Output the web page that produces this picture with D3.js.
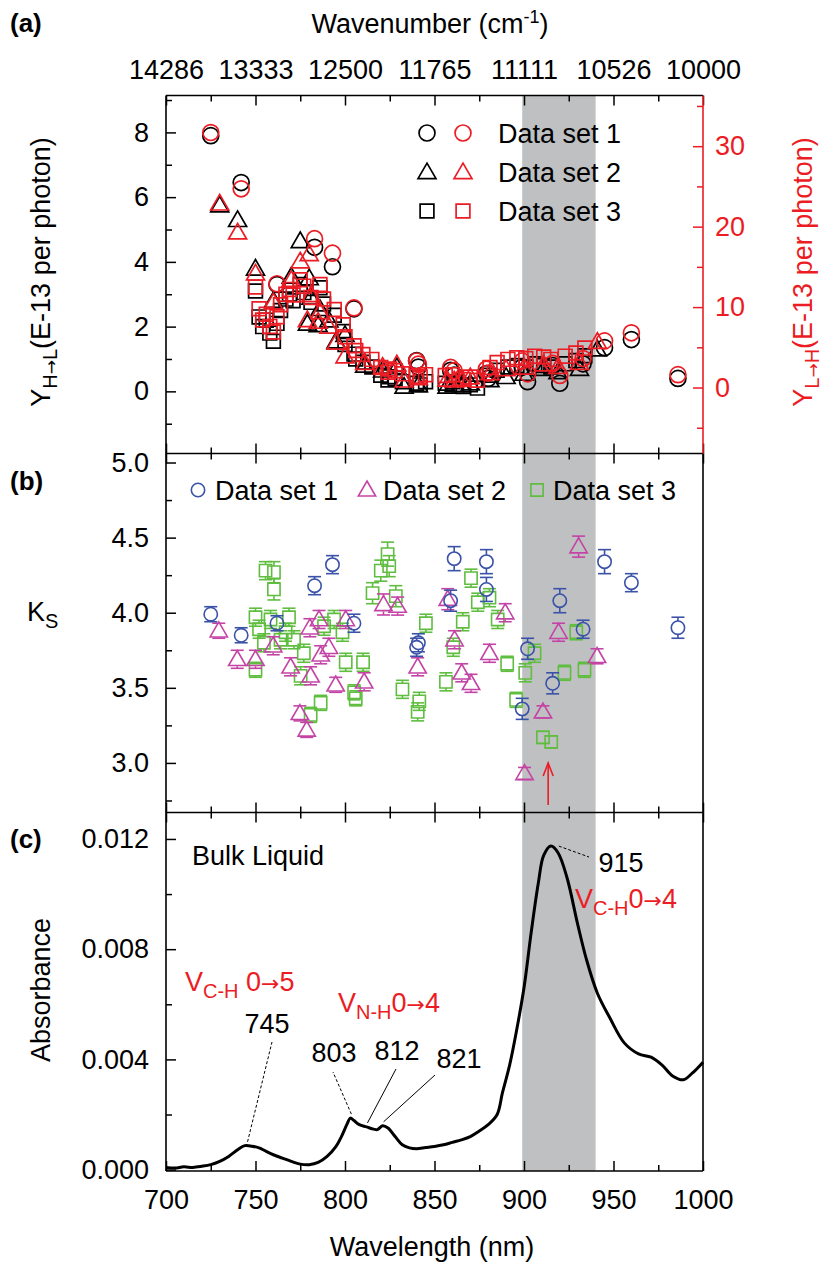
<!DOCTYPE html>
<html>
<head>
<meta charset="utf-8">
<script src="https://cdn.jsdelivr.net/npm/d3@7"></script>
<style>
body { margin: 0; background: #fff; }
text { font-family: "Liberation Sans", Arial, sans-serif; }
</style>
</head>
<body>
<svg id="chart" width="824" height="1268"></svg>
<script>
// ---- data ----
// panel (a): Y_H->L (left, black) and Y_L->H (right, red)
const a1Wl = [725, 742, 762, 783, 793, 805, 840, 841, 859, 861, 879, 880, 899, 902, 916, 920, 933, 945, 960, 986];
const a1HL = [7.9, 6.45, 3.3, 4.45, 3.85, 2.55, 0.95, 0.75, 0.65, 0.5, 0.55, 0.4, 0.75, 0.3, 0.8, 0.25, 0.85, 1.35, 1.6, 0.4];
const a1LH = [31.7, 24.7, 12.9, 18.5, 16.7, 9.9, 3.3, 2.9, 2.5, 2.1, 2.3, 1.8, 3.3, 1.7, 3.0, 1.5, 3.6, 5.8, 6.8, 1.6];

const a2Wl = [730, 740, 750, 760, 770, 775, 779, 780, 781, 785, 786, 791, 795, 800, 811, 821, 829, 833, 841, 857, 861, 865, 870, 881, 890, 900, 911, 919, 931, 941];
const a2HL = [5.75, 5.3, 3.8, 2.8, 3.55, 4.65, 2.1, 3.5, 2.9, 2.05, 2.55, 2.2, 1.55, 1.75, 0.8, 0.65, 0.75, 0.15, 0.2, 0.15, 0.2, 0.2, 0.25, 0.35, 0.45, 0.55, 0.7, 0.6, 0.7, 1.3];
const a2LH = [22.9, 19.3, 14.2, 10.6, 13.4, 15.7, 8.4, 16.6, 11.5, 8.2, 9.4, 7.6, 5.6, 3.9, 3.1, 2.6, 2.9, 0.9, 1.2, 1.0, 0.9, 1.1, 1.3, 1.8, 2.3, 2.5, 2.9, 2.6, 3.1, 5.7];

const a3Wl = [750, 752, 754, 756, 758, 760, 762, 764, 767, 769, 771, 775, 777, 781, 786, 788, 794, 799, 800, 805, 806, 810, 815, 820, 824, 825, 828, 832, 840, 842, 845, 856, 860, 866, 870, 874, 881, 885, 891, 896, 901, 906, 911, 915, 923, 929, 934];
const a3HL = [3.1, 2.3, 2.0, 2.2, 1.8, 1.55, 2.1, 2.5, 2.85, 3.0, 2.8, 3.3, 3.05, 2.75, 3.2, 2.7, 2.35, 1.85, 1.45, 1.15, 1.0, 0.9, 0.75, 0.5, 0.35, 0.45, 0.4, 0.3, 0.25, 0.2, 0.3, 0.25, 0.3, 0.15, 0.2, 0.1, 0.5, 0.65, 0.75, 0.8, 0.75, 0.85, 0.8, 0.75, 0.85, 0.95, 1.1];
const a3LH = [12.5, 9.8, 8.4, 9.1, 7.6, 6.9, 8.8, 10.3, 11.6, 12.2, 11.5, 13.4, 12.6, 11.2, 12.8, 11.0, 9.7, 7.8, 6.3, 5.2, 4.6, 4.1, 3.5, 2.5, 1.9, 2.3, 2.1, 1.7, 1.4, 1.3, 1.6, 1.5, 1.6, 1.0, 1.3, 0.9, 2.5, 3.1, 3.5, 3.7, 3.6, 3.9, 3.8, 3.5, 3.9, 4.3, 4.9];

// panel (b): K_S with error bars
const b1Wl = [725, 742, 762, 783, 793, 805, 840, 841, 859, 861, 879, 879, 899, 902, 916, 920, 933, 945, 960, 986];
const b1K = [3.99, 3.85, 3.93, 4.18, 4.32, 3.93, 3.77, 3.80, 4.08, 4.36, 4.155, 4.34, 3.36, 3.76, 3.53, 4.08, 3.89, 4.34, 4.20, 3.90];
const b1Err = [0.05, 0.05, 0.05, 0.06, 0.06, 0.06, 0.06, 0.06, 0.07, 0.08, 0.08, 0.08, 0.07, 0.07, 0.07, 0.08, 0.06, 0.08, 0.06, 0.07];

const b2Wl = [729.5, 739.8, 750, 759.9, 769.6, 774.8, 778.6, 780.4, 780.8, 785.5, 786.4, 791, 794.8, 800.4, 810.7, 821.5, 829.4, 840.6, 857.4, 861.2, 865.2, 870.4, 880.7, 889.5, 900.3, 910.6, 919.3, 930.5, 940.8];
const b2K = [3.88, 3.69, 3.69, 3.78, 3.64, 3.33, 3.22, 3.90, 3.58, 3.955, 3.72, 3.77, 3.52, 3.955, 3.54, 4.055, 4.044, 3.64, 4.09, 3.82, 3.60, 3.53, 3.73, 4.00, 2.93, 3.34, 3.87, 4.44, 3.71];
const b2Err = [0.05, 0.06, 0.06, 0.06, 0.06, 0.05, 0.05, 0.06, 0.06, 0.06, 0.06, 0.06, 0.05, 0.06, 0.06, 0.07, 0.06, 0.06, 0.07, 0.06, 0.06, 0.06, 0.06, 0.06, 0.04, 0.04, 0.06, 0.07, 0.05];

const b3Wl = [750, 750, 752, 754.7, 755.6, 758.4, 760.3, 760.3, 764, 766.8, 768.7, 771.5, 775.2, 777, 780.8, 786.4, 788.3, 793.9, 798.6, 800.4, 805.1, 806, 810.1, 815.4, 820, 823.8, 824.7, 828.4, 832.1, 840.6, 841.5, 845.2, 856.4, 860.5, 865.8, 870.4, 874.2, 880.7, 885.3, 890.6, 895.6, 900.7, 905.9, 910.6, 915.2, 922.6, 929.2, 933.8];
const b3K = [3.62, 3.97, 3.89, 3.80, 4.28, 3.955, 4.27, 4.155, 3.82, 3.87, 3.97, 3.82, 3.58, 3.73, 3.32, 3.40, 3.91, 3.955, 3.87, 3.67, 3.47, 3.43, 3.67, 4.13, 4.28, 4.39, 4.31, 4.11, 3.49, 3.34, 3.41, 3.93, 3.54, 3.77, 3.94, 4.23, 4.07, 4.10, 3.955, 3.66, 3.42, 3.60, 3.73, 3.17, 3.14, 3.60, 3.87, 3.62];
const b3Err = [0.05, 0.06, 0.06, 0.06, 0.06, 0.06, 0.07, 0.07, 0.06, 0.06, 0.06, 0.06, 0.06, 0.06, 0.05, 0.05, 0.06, 0.06, 0.06, 0.06, 0.05, 0.05, 0.06, 0.07, 0.07, 0.08, 0.07, 0.07, 0.06, 0.06, 0.06, 0.06, 0.06, 0.06, 0.06, 0.06, 0.06, 0.06, 0.06, 0.05, 0.05, 0.06, 0.06, 0.04, 0.04, 0.05, 0.05, 0.05];

// panel (c): bulk liquid absorbance
const cWl = [700, 705, 710, 715, 720, 725, 730, 735, 740, 744, 748, 752, 756, 760, 765, 770, 775, 780, 785, 790, 795, 798, 801, 803, 805, 808, 812, 816, 818, 821, 824, 828, 832, 836, 840, 845, 850, 855, 860, 865, 870, 875, 880, 885, 888, 892, 896, 900, 904, 908, 911, 915, 919, 924, 930, 935, 941, 948, 956, 964, 971, 977, 983, 989, 994, 1000];
const cAbs = [0.00008, 0.00006, 0.0001, 0.00008, 0.00012, 0.00018, 0.0003, 0.00048, 0.00072, 0.00087, 0.00085, 0.00079, 0.00066, 0.00054, 0.00042, 0.0003, 0.0002, 0.00018, 0.00026, 0.00048, 0.00084, 0.0012, 0.00163, 0.00187, 0.00178, 0.00163, 0.00155, 0.00147, 0.00145, 0.00159, 0.00151, 0.0012, 0.0009, 0.00079, 0.00076, 0.0008, 0.00084, 0.0009, 0.00099, 0.00108, 0.0012, 0.0014, 0.00163, 0.002, 0.0028, 0.0038, 0.0051, 0.0066, 0.0086, 0.0104, 0.0114, 0.01174, 0.0115, 0.0106, 0.0089, 0.0076, 0.0064, 0.0055, 0.0046, 0.0042, 0.00408, 0.0038, 0.0034, 0.00326, 0.0035, 0.0039];

const peakWl = [745, 803, 812, 821, 915];
const peakText = ["745", "803", "812", "821", "915"];

const xMajor = [700, 750, 800, 850, 900, 950, 1000];
const xMinor = [725, 775, 825, 875, 925, 975];
const band = [899, 940];
const arrowWl = 913.5;

// ---- layout ----
const FONT = "'Liberation Sans', Arial, sans-serif";
const ARROWFONT = "'DejaVu Sans', sans-serif";
const RED = "#ec1c24", BLUE = "#3a52a8", MAG = "#c444a6", GREEN = "#5fbd3f";
const left = 166, right = 703;
const topA = 95.5, ab = 453.5, bc = 812.5, bottomC = 1171;

const svg = d3.select("#chart");
svg.append("rect").attr("width", 824).attr("height", 1268).attr("fill", "#fff");

const x = d3.scaleLinear().domain([700, 1000]).range([left, right]);
const yA = d3.scaleLinear().domain([-1.92, 9.14]).range([ab, topA]);
const yAR = d3.scaleLinear().domain([-8.2, 36.3]).range([ab, topA]);
const yB = d3.scaleLinear().domain([2.67, 5.06]).range([bc, ab]);
const yC = d3.scaleLinear().domain([-0.00005, 0.01296]).range([bottomC, bc]);

// shaded band across all panels
svg.append("rect")
	.attr("x", x(band[0])).attr("width", x(band[1]) - x(band[0]))
	.attr("y", topA).attr("height", bottomC - topA)
	.attr("fill", "#bfc0c2");

function styleAxis(g, color) {
	g.select(".domain").remove();
	g.selectAll("line").attr("stroke", color).attr("stroke-width", 1.5);
	g.selectAll("text").attr("fill", color).style("font-size", "27px").style("font-family", FONT);
}

// x ticks on every horizontal edge
function xEdge(gen, y, fmt, pad) {
	let g = svg.append("g").attr("transform", "translate(0," + y + ")")
		.call(gen(x).tickValues(xMajor).tickSize(-10).tickPadding(pad || 3).tickFormat(fmt || (() => "")));
	styleAxis(g, "#000");
	g = svg.append("g").attr("transform", "translate(0," + y + ")")
		.call(gen(x).tickValues(xMinor).tickSize(-6).tickFormat(() => ""));
	styleAxis(g, "#000");
}
xEdge(d3.axisTop, topA, d => Math.round(1e7 / d), 17);
xEdge(d3.axisBottom, ab);
xEdge(d3.axisTop, ab);
xEdge(d3.axisBottom, bc);
xEdge(d3.axisTop, bc);
xEdge(d3.axisBottom, bottomC, d => d, 19);

function yEdge(gen, xPos, scale, major, minor, fmt, color, pad) {
	let g = svg.append("g").attr("transform", "translate(" + xPos + ",0)")
		.call(gen(scale).tickValues(major).tickSize(-10).tickPadding(pad).tickFormat(fmt));
	styleAxis(g, color);
	g = svg.append("g").attr("transform", "translate(" + xPos + ",0)")
		.call(gen(scale).tickValues(minor).tickSize(-6).tickFormat(() => ""));
	styleAxis(g, color);
}
yEdge(d3.axisLeft, left, yA, [0, 2, 4, 6, 8], [-1, 1, 3, 5, 7, 9], d3.format("d"), "#000", 17);
yEdge(d3.axisRight, right, yAR, [0, 10, 20, 30], [-5, 5, 15, 25, 35], d3.format("d"), RED, 12);
yEdge(d3.axisLeft, left, yB, [3.0, 3.5, 4.0, 4.5, 5.0], [2.75, 3.25, 3.75, 4.25, 4.75], d3.format(".1f"), "#000", 17);
yEdge(d3.axisLeft, left, yC, [0, 0.004, 0.008, 0.012], [0.002, 0.006, 0.010], d3.format(".3f"), "#000", 17);

// frame lines
const frame = svg.append("g").attr("stroke-width", 1.6);
[[left, topA, right, topA], [left, ab, right, ab], [left, bc, right, bc], [left, bottomC, right, bottomC],
 [left, topA, left, bottomC], [right, ab, right, bottomC]].forEach(l => {
	frame.append("line").attr("x1", l[0]).attr("y1", l[1]).attr("x2", l[2]).attr("y2", l[3]).attr("stroke", "#000");
});
frame.append("line").attr("x1", right).attr("y1", topA).attr("x2", right).attr("y2", ab).attr("stroke", RED);

// ---- panel (a) ----
const symA = { circle: d3.symbol(d3.symbolCircle, 200)(), triangle: d3.symbol(d3.symbolTriangle, 140)(), square: d3.symbol(d3.symbolSquare, 190)() };
const triOff = 1.5;

function drawA(wl, vals, scale, shape, color) {
	svg.append("g").selectAll("path")
		.data(wl.map((w, i) => [w, vals[i]]))
		.join("path")
		.attr("d", symA[shape])
		.attr("transform", d => "translate(" + x(d[0]) + "," + (scale(d[1]) + (shape === "triangle" ? triOff : 0)) + ")")
		.attr("fill", "none").attr("stroke", color).attr("stroke-width", 1.7);
}
drawA(a1Wl, a1HL, yA, "circle", "#000");
drawA(a2Wl, a2HL, yA, "triangle", "#000");
drawA(a3Wl, a3HL, yA, "square", "#000");
drawA(a1Wl, a1LH, yAR, "circle", RED);
drawA(a2Wl, a2LH, yAR, "triangle", RED);
drawA(a3Wl, a3LH, yAR, "square", RED);

// legend (a)
["circle", "triangle", "square"].forEach((s, i) => {
	const yy = 133 + i * 39;
	svg.append("path").attr("d", symA[s]).attr("transform", "translate(427," + (yy + (s === "triangle" ? triOff : 0)) + ")")
		.attr("fill", "none").attr("stroke", "#000").attr("stroke-width", 1.7);
	svg.append("path").attr("d", symA[s]).attr("transform", "translate(463," + (yy + (s === "triangle" ? triOff : 0)) + ")")
		.attr("fill", "none").attr("stroke", RED).attr("stroke-width", 1.7);
	svg.append("text").attr("x", 498).attr("y", yy + 10).style("font-size", "27px").text("Data set " + (i + 1));
});

// ---- panel (b) ----
const symB = { circle: d3.symbol(d3.symbolCircle, 140)(), triangle: d3.symbol(d3.symbolTriangle, 130)(), square: d3.symbol(d3.symbolSquare, 150)() };
const halfB = { circle: 6.7, triangle: 7, square: 6.1 };

function drawB(wl, k, err, shape, color) {
	const g = svg.append("g").attr("stroke", color).attr("stroke-width", 1.6).attr("fill", "none");
	wl.forEach((w, i) => {
		const cx = x(w), cy = yB(k[i]), hi = yB(k[i] + err[i]), lo = yB(k[i] - err[i]);
		const h = halfB[shape];
		if (hi < cy - h) g.append("line").attr("x1", cx).attr("x2", cx).attr("y1", hi).attr("y2", cy - h);
		if (lo > cy + h) g.append("line").attr("x1", cx).attr("x2", cx).attr("y1", cy + h).attr("y2", lo);
		g.append("line").attr("x1", cx - 6.5).attr("x2", cx + 6.5).attr("y1", hi).attr("y2", hi);
		g.append("line").attr("x1", cx - 6.5).attr("x2", cx + 6.5).attr("y1", lo).attr("y2", lo);
		g.append("path").attr("d", symB[shape]).attr("transform", "translate(" + cx + "," + (cy + (shape === "triangle" ? 1.2 : 0)) + ")");
	});
}
drawB(b3Wl, b3K, b3Err, "square", GREEN);
drawB(b2Wl, b2K, b2Err, "triangle", MAG);
drawB(b1Wl, b1K, b1Err, "circle", BLUE);

// legend (b)
[["circle", BLUE, 198, 215], ["triangle", MAG, 367, 383], ["square", GREEN, 537, 553]].forEach((l, i) => {
	svg.append("path").attr("d", symB[l[0]]).attr("transform", "translate(" + l[2] + "," + (490 + (l[0] === "triangle" ? 1 : 0)) + ")")
		.attr("fill", "none").attr("stroke", l[1]).attr("stroke-width", 1.6);
	svg.append("text").attr("x", l[3]).attr("y", 500).style("font-size", "27px").text("Data set " + (i + 1));
});

// red arrow
const arr = svg.append("g").attr("stroke", RED).attr("stroke-width", 1.6).attr("fill", "none");
arr.append("line").attr("x1", x(arrowWl)).attr("x2", x(arrowWl)).attr("y1", 805).attr("y2", 763);
arr.append("polyline").attr("points", (x(arrowWl) - 5) + ",776 " + x(arrowWl) + ",763 " + (x(arrowWl) + 5) + ",776");

// ---- panel (c) ----
svg.append("path")
	.datum(cWl.map((w, i) => [w, cAbs[i]]))
	.attr("d", d3.line().x(d => x(d[0])).y(d => yC(d[1])).curve(d3.curveCatmullRom))
	.attr("fill", "none").attr("stroke", "#000").attr("stroke-width", 3);

function absAt(w) {
	const i = d3.bisectLeft(cWl, w);
	if (cWl[i] === w) return cAbs[i];
	const t = (w - cWl[i - 1]) / (cWl[i] - cWl[i - 1]);
	return cAbs[i - 1] + t * (cAbs[i] - cAbs[i - 1]);
}

// peak labels: text position and leader end
const peakPos = [[267, 1033, 272, 1042, "3,2"], [334, 1062, 333, 1072, "3,2"], [397, 1060, 396, 1069, null], [459, 1068, 435, 1075, null], [621, 872, 589, 857, "3,2"]];
peakWl.forEach((w, i) => {
	const p = peakPos[i];
	svg.append("line")
		.attr("x1", x(w) + (i === 4 ? 8 : 1)).attr("y1", yC(absAt(w)) - (i === 4 ? 0 : 4))
		.attr("x2", p[2]).attr("y2", p[3])
		.attr("stroke", "#000").attr("stroke-width", 1).attr("stroke-dasharray", p[4]);
	svg.append("text").attr("x", p[0]).attr("y", p[1]).attr("text-anchor", "middle")
		.style("font-size", "27px").text(peakText[i]);
});

svg.append("text").attr("x", 192).attr("y", 865).style("font-size", "27px").text("Bulk Liquid");

function modeLabel(xx, yy, sub, gap, last) {
	const t = svg.append("text").attr("x", xx).attr("y", yy).attr("fill", RED).style("font-size", "27px");
	t.append("tspan").text("V");
	t.append("tspan").attr("dy", 7).style("font-size", "20px").text(sub);
	t.append("tspan").attr("dy", -7).text(gap + "0");
	t.append("tspan").style("font-family", ARROWFONT).style("font-size", "22px").text("\u2192");
	t.append("tspan").text(last);
}
modeLabel(185, 991, "C-H", " ", "5");
modeLabel(338, 1012, "N-H", "", "4");
modeLabel(575, 908, "C-H", "", "4");

// ---- axis titles and panel letters ----
function rotLabel(xx, yy, sub, color) {
	const t = svg.append("text").attr("transform", "translate(" + xx + "," + yy + ") rotate(-90)")
		.attr("text-anchor", "middle").attr("fill", color).style("font-size", "27px");
	t.append("tspan").text("Y");
	t.append("tspan").attr("dy", 7).style("font-size", "20px").text(sub[0]);
	t.append("tspan").attr("dy", 0).style("font-size", "17px").style("font-family", ARROWFONT).text("\u2192");
	t.append("tspan").style("font-size", "20px").text(sub[1]);
	t.append("tspan").attr("dy", -7).text("(E-13 per photon)");
}
rotLabel(50, 272, ["H", "L"], "#000");
rotLabel(812, 272, ["L", "H"], RED);

const ks = svg.append("text").attr("x", 27).attr("y", 621).style("font-size", "27px");
ks.append("tspan").text("K");
ks.append("tspan").attr("dy", 7).style("font-size", "20px").text("S");

svg.append("text").attr("transform", "translate(50,990) rotate(-90)").attr("text-anchor", "middle")
	.style("font-size", "27px").text("Absorbance");

const wn = svg.append("text").attr("x", 430).attr("y", 33).attr("text-anchor", "middle").style("font-size", "27px");
wn.append("tspan").text("Wavenumber (cm");
wn.append("tspan").attr("dy", -10).style("font-size", "18px").text("-1");
wn.append("tspan").attr("dy", 10).text(")");

svg.append("text").attr("x", 432).attr("y", 1256).attr("text-anchor", "middle").style("font-size", "27px").text("Wavelength (nm)");

[["(a)", 32], ["(b)", 490], ["(c)", 848]].forEach(p => {
	svg.append("text").attr("x", 10).attr("y", p[1]).style("font-size", "26px").style("font-weight", "bold").text(p[0]);
});
</script>
</body>
</html>
